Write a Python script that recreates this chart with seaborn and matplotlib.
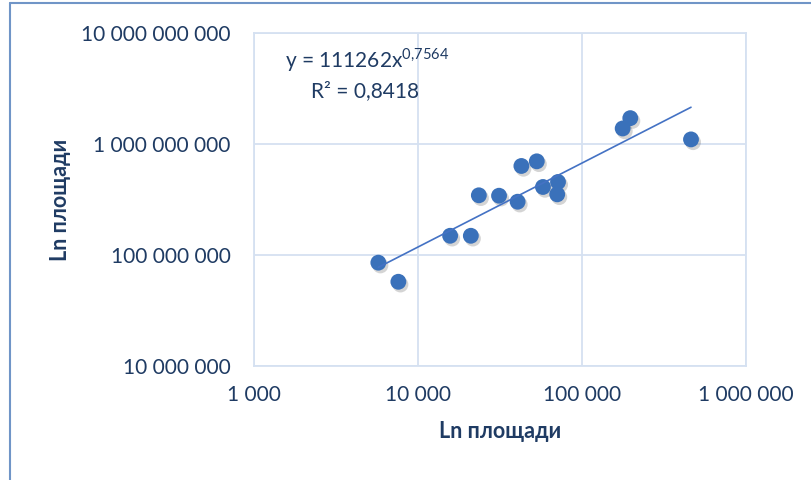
import numpy as np
import pandas as pd
import matplotlib
matplotlib.use("Agg")
import matplotlib.pyplot as plt
import matplotlib.ticker as mticker
import matplotlib.patheffects as pe
from matplotlib.lines import Line2D
import seaborn as sns

# data (area vs. value, log-log)
area = [5730, 7590, 15700, 21000, 23500, 31200, 40500, 42700, 53000, 57800,
        71400, 70600, 177000, 197000, 462000]
value = [85.3e6, 57.4e6, 149e6, 149e6, 345e6, 342e6, 302e6, 634e6, 698e6, 410e6,
         455e6, 352e6, 1.38e9, 1.71e9, 1.10e9]
x_ticks = [1e3, 1e4, 1e5, 1e6]
y_ticks = [1e7, 1e8, 1e9, 1e10]

# power trend shown on the chart
coef_a = 111262
coef_b = 0.7564
r2 = "0,8418"

df = pd.DataFrame({"area": area, "value": value})

sns.set_style("white")
plt.rcParams["font.family"] = ["Lato", "DejaVu Sans"]

txt = "#1f3b63"
grid = "#d5e1f1"
dot = "#3a71ba"

fig = plt.figure(figsize=(8.12, 4.8), dpi=100)
ax = fig.add_axes([254/812, 1-366/480, (746-254)/812, (366-33)/480])

sns.scatterplot(data=df, x="area", y="value", ax=ax, s=130, color=dot,
                edgecolor="none", zorder=3,
                path_effects=[pe.SimplePatchShadow(offset=(1.5, -2), shadow_rgbFace="#555555",
                                                   alpha=0.25), pe.Normal()])

xs = np.array([min(area), max(area)])
ax.plot(xs, coef_a * xs ** coef_b, color="#4472c4", lw=1.2, zorder=4)

ax.set_xscale("log")
ax.set_yscale("log")
ax.set_xlim(x_ticks[0], x_ticks[-1])
ax.set_ylim(y_ticks[0], y_ticks[-1])
ax.set_xticks(x_ticks)
ax.set_yticks(y_ticks)
ax.xaxis.set_minor_locator(mticker.NullLocator())
ax.yaxis.set_minor_locator(mticker.NullLocator())
fmt = mticker.FuncFormatter(lambda v, p: f"{v:,.0f}".replace(",", " "))
ax.xaxis.set_major_formatter(fmt)
ax.yaxis.set_major_formatter(fmt)

ax.grid(True, color=grid, lw=1.3, zorder=0)
for s in ax.spines.values():
    s.set_color(grid)
    s.set_linewidth(1.3)
ax.tick_params(axis="both", length=0, labelsize=15, labelcolor=txt)
ax.tick_params(axis="y", pad=17)
ax.tick_params(axis="x", pad=14)

ax.set_xlabel("Ln площади", fontsize=15.5, fontweight="bold", color=txt, labelpad=11)
ax.set_ylabel("Ln площади", fontsize=15.5, fontweight="bold", color=txt, labelpad=7)

fig.text(285/812, 1-68/480, r"y = 111262x$^{\mathregular{0{,}7564}}$", fontsize=15,
         color=txt, va="baseline", ha="left")
fig.text(311/812, 1-97/480, "R² = " + r2, fontsize=15, color=txt, va="baseline", ha="left")

# outer chart frame
fig.add_artist(Line2D([10/812, 10/812], [0, 1-3/480], color="#7095c7", lw=1.5))
fig.add_artist(Line2D([10/812, 1], [1-3/480, 1-3/480], color="#7095c7", lw=1.5))

fig.savefig("out.png", dpi=100)
